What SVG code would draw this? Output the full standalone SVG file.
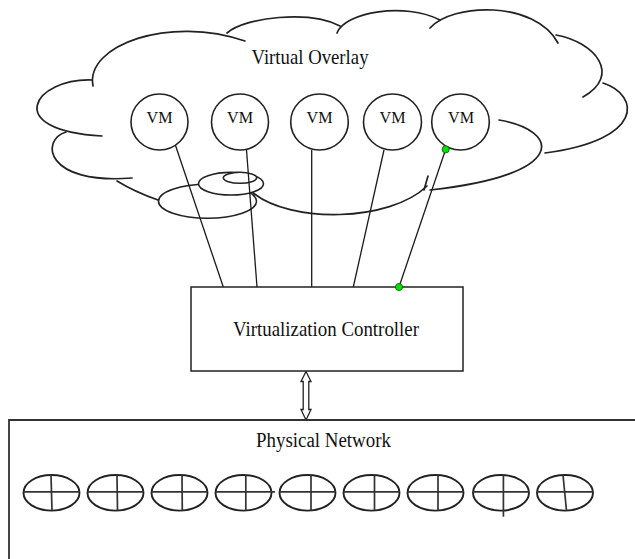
<svg xmlns="http://www.w3.org/2000/svg" width="635" height="559" viewBox="0 0 635 559">
<style>
.o{fill:none;stroke:#222;stroke-width:1.7;stroke-linecap:round}
.w{fill:#fff;stroke:#222;stroke-width:1.6}
.ln{fill:none;stroke:#1a1a1a;stroke-width:1.3}
.t{font-family:"Liberation Serif","Times New Roman",serif;fill:#111;text-anchor:middle}
.dot{fill:#00e000;stroke:#0a5a0a;stroke-width:0.8}
.nic{fill:#fff;stroke:#222;stroke-width:1.9}
.x{stroke:#333;stroke-width:1.7}
</style>
<rect width="635" height="559" fill="#fff"/>
<g id="virtual-overlay">
<path class="o" d="M93,86 C85,45 170,15 245,41"/>
<path class="o" d="M227,33 C245,17 310,10 340,26"/>
<path class="o" d="M337,33 C345,12 405,2 440,20"/>
<path class="o" d="M430,28 C452,3 535,0 558,43"/>
<path class="o" d="M556,35 C595,42 622,75 583,97"/>
<path class="o" d="M603,83 C640,95 645,140 545,153"/>
<path class="o" d="M499,120 C560,130 570,175 430,190"/>
<path class="o" d="M428,176 L424,190"/>
<path class="o" d="M427,186 C390,222 290,224 252,192"/>
<path class="o" d="M92,80 C35,78 0,130 102,136"/>
<path class="o" d="M66,132 C40,140 45,185 132,178"/>
<path class="o" d="M117,181 Q135,192 158,200"/>
<ellipse class="w" cx="207.5" cy="201.3" rx="49" ry="17"/>
<ellipse class="w" cx="231" cy="183.7" rx="32.5" ry="11.3"/>
<ellipse class="w" cx="240" cy="177.8" rx="16.7" ry="5.5"/>
<text class="t" x="310" y="64" font-size="21" textLength="117" lengthAdjust="spacingAndGlyphs">Virtual Overlay</text>
</g>
<g id="connectors">
<line class="ln" x1="174" y1="141" x2="223.3" y2="287"/>
<line class="ln" x1="246.5" y1="150" x2="257" y2="287"/>
<line class="ln" x1="311.7" y1="150" x2="311.7" y2="287"/>
<line class="ln" x1="384" y1="150" x2="353.3" y2="287"/>
<line class="ln" x1="445.7" y1="149.3" x2="399" y2="287"/>
<path d="M306,371.5 L311,381.5 L308.8,381.5 L308.8,409.5 L311,409.5 L306,420 L301,409.5 L303.2,409.5 L303.2,381.5 L301,381.5 Z" fill="#fff" stroke="#222" stroke-width="1.3" stroke-linejoin="miter"/>
</g>
<g id="vm1"><ellipse class="w" cx="159.5" cy="122" rx="28.5" ry="28"/><text class="t" x="159.5" y="122.7" font-size="17.5" textLength="26" lengthAdjust="spacingAndGlyphs">VM</text></g>
<g id="vm2"><ellipse class="w" cx="240" cy="122" rx="28.5" ry="28"/><text class="t" x="240" y="122.7" font-size="17.5" textLength="26" lengthAdjust="spacingAndGlyphs">VM</text></g>
<g id="vm3"><ellipse class="w" cx="319.5" cy="122" rx="28.8" ry="28"/><text class="t" x="319.5" y="122.7" font-size="17.5" textLength="26" lengthAdjust="spacingAndGlyphs">VM</text></g>
<g id="vm4"><ellipse class="w" cx="392.5" cy="122" rx="29" ry="28"/><text class="t" x="392.5" y="122.7" font-size="17.5" textLength="26" lengthAdjust="spacingAndGlyphs">VM</text></g>
<g id="vm5"><ellipse class="w" cx="460.5" cy="122" rx="28.8" ry="28"/><text class="t" x="461" y="122.7" font-size="17.5" textLength="26" lengthAdjust="spacingAndGlyphs">VM</text></g>
<g id="controller">
<rect x="191" y="287" width="272" height="84" fill="#fff" stroke="#222" stroke-width="1.5"/>
<text class="t" x="326" y="335.5" font-size="21.5" textLength="186" lengthAdjust="spacingAndGlyphs">Virtualization Controller</text>
</g>
<g id="dots">
<circle class="dot" cx="445.7" cy="149.3" r="3.6"/>
<circle class="dot" cx="399" cy="287" r="3.6"/>
</g>
<g id="physical-network">
<path d="M9,560 L9,420 L636,420" fill="none" stroke="#333" stroke-width="1.8"/>
<text class="t" x="323.5" y="446.7" font-size="20" textLength="135" lengthAdjust="spacingAndGlyphs">Physical Network</text>
<g id="n1"><ellipse class="nic" cx="51.5" cy="492.8" rx="28" ry="17.8"/><line class="x" x1="23.5" y1="491.8" x2="79.5" y2="491.8"/><line class="x" x1="51" y1="475" x2="52" y2="510.6"/></g>
<g id="n2"><ellipse class="nic" cx="115.5" cy="492.8" rx="28" ry="17.8"/><line class="x" x1="87.5" y1="491.8" x2="143.5" y2="491.8"/><line class="x" x1="117" y1="475" x2="117.5" y2="510.6"/></g>
<g id="n3"><ellipse class="nic" cx="179.5" cy="492.8" rx="28" ry="17.8"/><line class="x" x1="151.5" y1="491.8" x2="207.5" y2="491.8"/><line class="x" x1="182" y1="475" x2="182.3" y2="510.6"/></g>
<g id="n4"><ellipse class="nic" cx="243.5" cy="492.8" rx="28" ry="17.8"/><line class="x" x1="215.5" y1="491.8" x2="275" y2="491.8"/><line class="x" x1="245.8" y1="475" x2="245.8" y2="510.6"/></g>
<g id="n5"><ellipse class="nic" cx="307.5" cy="492.8" rx="28" ry="17.8"/><line class="x" x1="279.5" y1="491.8" x2="335.5" y2="491.8"/><line class="x" x1="311" y1="475" x2="311" y2="510.6"/></g>
<g id="n6"><ellipse class="nic" cx="371.5" cy="492.8" rx="28" ry="17.8"/><line class="x" x1="343.5" y1="491.8" x2="399.5" y2="491.8"/><line class="x" x1="374.5" y1="475" x2="374.5" y2="510.6"/></g>
<g id="n7"><ellipse class="nic" cx="435.5" cy="492.8" rx="28" ry="17.8"/><line class="x" x1="407.5" y1="491.8" x2="463.5" y2="491.8"/><line class="x" x1="438" y1="475" x2="438" y2="510.6"/></g>
<g id="n8"><ellipse class="nic" cx="501" cy="492.8" rx="28" ry="17.8"/><line class="x" x1="473" y1="491.8" x2="529" y2="491.8"/><line class="x" x1="503.4" y1="475" x2="503.4" y2="516.7"/></g>
<g id="n9"><ellipse class="nic" cx="565" cy="492.8" rx="28" ry="17.8"/><line class="x" x1="537" y1="491.8" x2="593" y2="491.8"/><line class="x" x1="563" y1="475" x2="566.5" y2="510.6"/></g>
</g>
</svg>
